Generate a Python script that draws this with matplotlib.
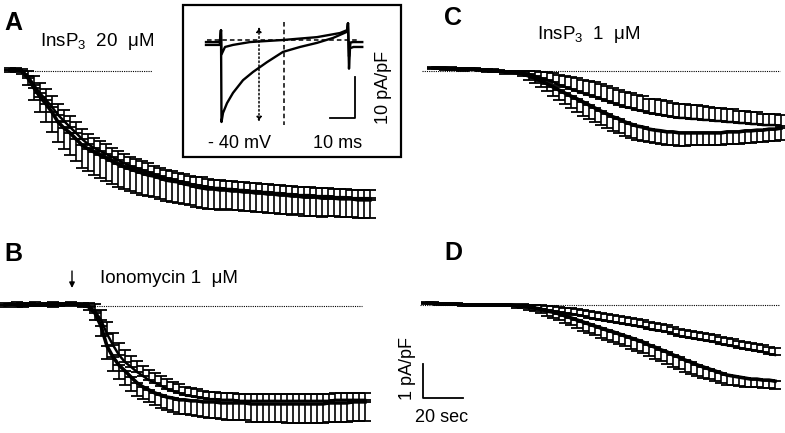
import matplotlib
matplotlib.use('Agg')
import matplotlib.pyplot as plt
from matplotlib.patches import Rectangle
import numpy as np

plt.rcParams['font.family'] = ['Liberation Sans', 'DejaVu Sans']
plt.rcParams['mathtext.fontset'] = 'custom'
plt.rcParams['mathtext.rm'] = 'Liberation Sans'

W, H = 785, 433
DT = 3.0  # s between samples

# === DATA (pA/pF), series 1 = filled (bars down), series 2 = open (bars up) ===
a_s1 = [0.03, 0.03, 0.00, -0.21, -0.50, -0.76, -0.97, -1.21, -1.50, -1.68,
        -1.82, -2.00, -2.18, -2.29, -2.38, -2.47, -2.56, -2.65, -2.74, -2.82,
        -2.88, -2.94, -3.00, -3.06, -3.09, -3.15, -3.21, -3.24, -3.26, -3.32,
        -3.35, -3.41, -3.44, -3.47, -3.47, -3.50, -3.50, -3.53, -3.53, -3.56,
        -3.56, -3.59, -3.59, -3.62, -3.62, -3.65, -3.65, -3.68, -3.68, -3.71,
        -3.71, -3.71, -3.74, -3.74, -3.74, -3.76, -3.76, -3.76, -3.79, -3.79,
        -3.79]
a_e1 = [0.06, 0.06, 0.08, 0.20, 0.35, 0.45, 0.52, 0.58, 0.60, 0.62,
        0.64, 0.65, 0.66, 0.66, 0.67, 0.67, 0.67, 0.66, 0.66, 0.65,
        0.65, 0.64, 0.64, 0.63, 0.63, 0.62, 0.62, 0.61, 0.61, 0.60,
        0.60, 0.59, 0.59, 0.58, 0.58, 0.58, 0.57, 0.57, 0.57, 0.56,
        0.56, 0.56, 0.56, 0.55, 0.55, 0.55, 0.55, 0.55, 0.54, 0.54,
        0.54, 0.54, 0.54, 0.53, 0.53, 0.53, 0.53, 0.53, 0.53, 0.53,
        0.53]
a_s2 = [0.03, 0.03, 0.00, -0.15, -0.41, -0.65, -0.85, -1.06, -1.29, -1.47,
        -1.65, -1.82, -2.00, -2.15, -2.26, -2.35, -2.44, -2.53, -2.62, -2.71,
        -2.79, -2.85, -2.91, -2.97, -3.03, -3.09, -3.15, -3.18, -3.24, -3.26,
        -3.32, -3.35, -3.38, -3.41, -3.44, -3.44, -3.47, -3.47, -3.50, -3.50,
        -3.53, -3.53, -3.56, -3.56, -3.59, -3.59, -3.62, -3.62, -3.65, -3.65,
        -3.65, -3.68, -3.68, -3.68, -3.71, -3.71, -3.71, -3.74, -3.74, -3.74,
        -3.74]
a_e2 = [0.05, 0.05, 0.06, 0.15, 0.25, 0.30, 0.33, 0.33, 0.33, 0.32,
        0.32, 0.31, 0.30, 0.30, 0.29, 0.28, 0.28, 0.27, 0.27, 0.26,
        0.26, 0.26, 0.25, 0.25, 0.25, 0.25, 0.25, 0.24, 0.24, 0.24,
        0.24, 0.24, 0.25, 0.24, 0.24, 0.23, 0.24, 0.24, 0.24, 0.25,
        0.24, 0.24, 0.23, 0.24, 0.24, 0.24, 0.24, 0.25, 0.24, 0.24,
        0.24, 0.23, 0.24, 0.24, 0.24, 0.24, 0.24, 0.25, 0.24, 0.24,
        0.24]

b_s1 = [0.03, 0.06, 0.03, 0.03, 0.06, 0.03, 0.06, 0.06, 0.03, 0.06,
        0.06, 0.06, 0.06, 0.03, -0.03, -0.21, -0.59, -1.18, -1.50, -1.74,
        -1.91, -2.09, -2.26, -2.38, -2.47, -2.56, -2.62, -2.68, -2.71, -2.76,
        -2.76, -2.79, -2.79, -2.82, -2.82, -2.82, -2.85, -2.85, -2.85, -2.85,
        -2.85, -2.88, -2.88, -2.88, -2.88, -2.88, -2.88, -2.88, -2.88, -2.88,
        -2.88, -2.88, -2.88, -2.88, -2.85, -2.85, -2.85, -2.85, -2.82, -2.82,
        -2.82]
b_e1 = [0.05, 0.04, 0.05, 0.06, 0.05, 0.04, 0.05, 0.05, 0.06, 0.05,
        0.05, 0.04, 0.05, 0.05, 0.10, 0.20, 0.30, 0.38, 0.40, 0.41,
        0.41, 0.40, 0.38, 0.36, 0.36, 0.36, 0.37, 0.38, 0.40, 0.41,
        0.42, 0.43, 0.44, 0.45, 0.46, 0.47, 0.48, 0.49, 0.50, 0.50,
        0.51, 0.52, 0.52, 0.53, 0.53, 0.54, 0.54, 0.55, 0.55, 0.55,
        0.56, 0.56, 0.56, 0.56, 0.56, 0.57, 0.57, 0.56, 0.57, 0.56,
        0.56]
b_s2 = [0.03, 0.03, 0.06, 0.03, 0.03, 0.06, 0.03, 0.03, 0.06, 0.03,
        0.03, 0.06, 0.03, 0.03, 0.00, -0.15, -0.41, -0.82, -1.15, -1.44,
        -1.65, -1.79, -1.94, -2.06, -2.18, -2.26, -2.35, -2.44, -2.50, -2.56,
        -2.62, -2.65, -2.68, -2.71, -2.74, -2.74, -2.76, -2.76, -2.76, -2.79,
        -2.79, -2.79, -2.79, -2.79, -2.79, -2.79, -2.79, -2.79, -2.79, -2.79,
        -2.79, -2.79, -2.79, -2.79, -2.79, -2.76, -2.76, -2.76, -2.76, -2.76,
        -2.76]
b_e2 = [0.05, 0.04, 0.05, 0.05, 0.06, 0.05, 0.04, 0.05, 0.05, 0.05,
        0.06, 0.05, 0.04, 0.05, 0.10, 0.20, 0.30, 0.35, 0.35, 0.35,
        0.35, 0.33, 0.32, 0.31, 0.30, 0.30, 0.29, 0.28, 0.27, 0.26,
        0.25, 0.24, 0.23, 0.22, 0.22, 0.21, 0.21, 0.21, 0.20, 0.20,
        0.20, 0.20, 0.20, 0.21, 0.20, 0.20, 0.20, 0.21, 0.20, 0.20,
        0.20, 0.21, 0.20, 0.20, 0.20, 0.21, 0.20, 0.20, 0.21, 0.20,
        0.20]

c_s1 = [0.09, 0.09, 0.09, 0.06, 0.06, 0.06, 0.06, 0.06, 0.03, 0.03,
        0.00, 0.00, -0.03, -0.03, -0.06, -0.09, -0.15, -0.21, -0.29, -0.38,
        -0.47, -0.56, -0.65, -0.74, -0.82, -0.91, -1.00, -1.09, -1.18, -1.26,
        -1.35, -1.41, -1.50, -1.56, -1.62, -1.65, -1.71, -1.74, -1.76, -1.79,
        -1.79, -1.82, -1.82, -1.82, -1.82, -1.82, -1.82, -1.82, -1.82, -1.79,
        -1.79, -1.79, -1.76, -1.76, -1.74, -1.74, -1.71, -1.71, -1.68]
c_e1 = [0.04, 0.04, 0.05, 0.04, 0.04, 0.05, 0.04, 0.04, 0.04, 0.05,
        0.04, 0.04, 0.05, 0.04, 0.04, 0.06, 0.10, 0.14, 0.18, 0.22,
        0.26, 0.30, 0.33, 0.36, 0.38, 0.40, 0.41, 0.42, 0.42, 0.42,
        0.41, 0.41, 0.40, 0.40, 0.40, 0.40, 0.39, 0.39, 0.39, 0.38,
        0.38, 0.38, 0.38, 0.37, 0.37, 0.37, 0.37, 0.36, 0.36, 0.36,
        0.36, 0.36, 0.35, 0.35, 0.35, 0.35, 0.35, 0.35, 0.35]
c_s2 = [0.09, 0.09, 0.06, 0.06, 0.06, 0.06, 0.06, 0.03, 0.03, 0.03,
        0.00, 0.00, -0.03, -0.03, -0.03, -0.06, -0.09, -0.15, -0.21, -0.26,
        -0.32, -0.41, -0.47, -0.53, -0.59, -0.65, -0.71, -0.76, -0.82, -0.88,
        -0.94, -1.00, -1.06, -1.09, -1.15, -1.18, -1.24, -1.26, -1.29, -1.32,
        -1.35, -1.38, -1.38, -1.41, -1.41, -1.44, -1.44, -1.47, -1.47, -1.50,
        -1.50, -1.53, -1.53, -1.56, -1.56, -1.59, -1.59, -1.59, -1.62]
c_e2 = [0.04, 0.04, 0.04, 0.05, 0.04, 0.04, 0.04, 0.05, 0.04, 0.04,
        0.05, 0.04, 0.04, 0.04, 0.04, 0.06, 0.10, 0.14, 0.18, 0.22,
        0.26, 0.30, 0.33, 0.36, 0.38, 0.40, 0.42, 0.43, 0.44, 0.44,
        0.44, 0.44, 0.44, 0.44, 0.44, 0.44, 0.43, 0.43, 0.43, 0.43,
        0.42, 0.42, 0.41, 0.41, 0.40, 0.40, 0.39, 0.39, 0.38, 0.38,
        0.37, 0.36, 0.36, 0.35, 0.35, 0.34, 0.34, 0.33, 0.32]

d_s1 = [0.06, 0.06, 0.03, 0.03, 0.03, 0.03, 0.00, 0.00, 0.00, 0.00,
        0.00, 0.00, 0.00, 0.00, 0.00, -0.03, -0.03, -0.06, -0.09, -0.12,
        -0.18, -0.21, -0.26, -0.32, -0.38, -0.44, -0.50, -0.56, -0.62, -0.68,
        -0.74, -0.79, -0.85, -0.91, -0.97, -1.03, -1.09, -1.18, -1.24, -1.32,
        -1.38, -1.47, -1.53, -1.62, -1.68, -1.76, -1.82, -1.88, -1.94, -2.00,
        -2.06, -2.09, -2.12, -2.15, -2.18, -2.18, -2.21, -2.21, -2.24]
d_e1 = [0.03, 0.03, 0.04, 0.03, 0.03, 0.03, 0.04, 0.03, 0.03, 0.03,
        0.04, 0.03, 0.03, 0.03, 0.04, 0.05, 0.06, 0.08, 0.10, 0.12,
        0.14, 0.16, 0.18, 0.20, 0.22, 0.24, 0.25, 0.26, 0.27, 0.28,
        0.29, 0.30, 0.31, 0.31, 0.32, 0.32, 0.33, 0.33, 0.34, 0.34,
        0.35, 0.35, 0.35, 0.34, 0.34, 0.33, 0.32, 0.31, 0.30, 0.29,
        0.28, 0.27, 0.26, 0.25, 0.24, 0.23, 0.23, 0.22, 0.22]
d_s2 = [0.06, 0.06, 0.03, 0.03, 0.03, 0.03, 0.00, 0.00, 0.00, 0.00,
        0.00, 0.00, 0.00, 0.00, 0.00, -0.03, -0.03, -0.06, -0.09, -0.12,
        -0.15, -0.18, -0.21, -0.24, -0.26, -0.29, -0.32, -0.38, -0.41, -0.44,
        -0.47, -0.50, -0.53, -0.56, -0.59, -0.62, -0.65, -0.71, -0.74, -0.76,
        -0.79, -0.85, -0.91, -0.94, -0.97, -1.00, -1.03, -1.06, -1.09, -1.15,
        -1.18, -1.21, -1.26, -1.29, -1.32, -1.35, -1.38, -1.44, -1.47]
d_e2 = [0.03, 0.03, 0.03, 0.04, 0.03, 0.03, 0.03, 0.04, 0.03, 0.03,
        0.03, 0.04, 0.03, 0.03, 0.03, 0.04, 0.05, 0.07, 0.09, 0.11,
        0.13, 0.14, 0.15, 0.16, 0.17, 0.18, 0.18, 0.19, 0.19, 0.20,
        0.20, 0.20, 0.20, 0.21, 0.20, 0.20, 0.21, 0.20, 0.20, 0.21,
        0.20, 0.20, 0.21, 0.20, 0.20, 0.21, 0.20, 0.20, 0.21, 0.20,
        0.20, 0.21, 0.20, 0.20, 0.21, 0.20, 0.20, 0.21, 0.20]

# inset: current traces during a -40 mV step (ms, pA/pF)
slow_t = [-6, -0.5, 0, 0.2, 0.8, 2.4, 4.8, 8.8, 12.8, 18.4, 24.8, 31.6,
          38.4, 44.8, 50.4, 50.8, 51.2, 51.6, 53, 56.5]
slow_i = [-1.2, -1.2, 2.4, -20.0, -17.8, -15.4, -12.9, -9.8, -7.8, -5.4,
          -2.9, -1.7, -0.7, 0.5, 2.0, 4.1, -7.0, -2.0, -1.7, -1.7]
fast_t = [-6, -0.5, 0, 0.2, 1.6, 4.8, 11.6, 24.8, 38.4, 47.6, 50.4, 50.8,
          51.2, 51.8, 53, 56.5]
fast_i = [-0.5, -0.5, 2.4, -3.5, -1.7, -1.2, -0.5, 0.0, 0.7, 1.7, 2.4, 4.1,
          -4.0, -0.6, -0.5, -0.5]

fig = plt.figure(figsize=(7.85, 4.33), dpi=100, facecolor='white')


def px(x, y):
    return x / W, 1 - y / H


def panel_axes(x0, y0, sx, sy):
    # axes over whole figure, origin (t=0, I=0) at pixel (x0, y0)
    ax = fig.add_axes([0, 0, 1, 1])
    ax.set_xlim(-x0 / sx, (W - x0) / sx)
    ax.set_ylim((y0 - H) / sy, y0 / sy)
    ax.axis('off')
    ax.patch.set_alpha(0)
    return ax


def draw_panel(ax, s1, e1, s2, e2, base):
    ax.plot(base, [0, 0], color='k', lw=0.8, ls=(0, (1, 1)))
    t2 = np.arange(len(s2)) * DT
    ax.errorbar(t2, s2, yerr=[np.zeros(len(e2)), e2], color='k', lw=1.8,
                elinewidth=1.2, capsize=4.2, capthick=1.3)
    t1 = np.arange(len(s1)) * DT
    ax.errorbar(t1, s1, yerr=[e1, np.zeros(len(e1))], color='k', lw=2.6,
                elinewidth=1.2, capsize=4.2, capthick=1.3)


axA = panel_axes(10, 71, 2.0, 34.0)
draw_panel(axA, a_s1, a_e1, a_s2, a_e2, [-1, 71])
axB = panel_axes(5, 306, 2.0, 34.0)
draw_panel(axB, b_s1, b_e1, b_s2, b_e2, [42.5, 178.5])
axC = panel_axes(433, 71, 2.0, 34.0)
draw_panel(axC, c_s1, c_e1, c_s2, c_e2, [-5.5, 173.5])
axD = panel_axes(427, 305, 2.0, 34.0)
draw_panel(axD, d_s1, d_e1, d_s2, d_e2, [-3.5, 176.5])

# scale bar 20 sec / 1 pA/pF
axD.plot([-2, -2, 18], [-1.74, -2.74, -2.74], color='k', lw=1.3)
fig.text(*px(408, 368), '1 pA/pF', rotation=90, ha='center', va='center', fontsize=13)
fig.text(*px(442, 418), '20 sec', ha='center', va='center', fontsize=13)

# === INSET ===
fig.add_artist(Rectangle(px(183, 157), (401 - 183) / W, (157 - 5) / H,
                         transform=fig.transFigure, fill=False, lw=1.6, color='k'))
ins = panel_axes(221, 40, 2.5, 4.1)
ins.plot([-5.6, 55], [0, 0], color='k', lw=1.1, ls=(0, (3, 2)))
ins.plot(slow_t, slow_i, color='k', lw=1.7)
ins.plot(fast_t, fast_i, color='k', lw=1.7)
ins.plot([25.2, 25.2], [4.4, -20.7], color='k', lw=1.1, ls=(0, (3, 2)))
ins.annotate('', xy=(15.2, -20.0), xytext=(15.2, 3.2),
             arrowprops=dict(arrowstyle='<|-|>', ls=':', lw=1.1, color='k',
                             mutation_scale=7, shrinkA=0, shrinkB=0))
ins.plot([43.6, 53.6, 53.6], [-19, -19, -9], color='k', lw=1.3)
fig.text(*px(240, 143), '- 40 mV', ha='center', va='center', fontsize=13)
fig.text(*px(338, 143), '10 ms', ha='center', va='center', fontsize=13)
fig.text(*px(384, 87), '10 pA/pF', rotation=90, ha='center', va='center', fontsize=13)

# === LABELS ===
for lab, (x, y) in zip('ABCD', [(13, 23), (13, 254), (453, 18), (453, 253)]):
    fig.text(*px(x, y), lab, ha='center', va='center', fontsize=18, fontweight='bold')

fig.text(*px(40, 46), r'InsP$_\mathrm{3}$  20  μM', ha='left', va='baseline', fontsize=13.5)
fig.text(*px(537, 39), r'InsP$_\mathrm{3}$  1  μM', ha='left', va='baseline', fontsize=13.5)
fig.text(*px(100, 283), 'Ionomycin 1  μM', ha='left', va='baseline', fontsize=13.5)
fig.add_artist(plt.Annotation('', xy=px(72, 288), xytext=px(72, 271),
                              xycoords='figure fraction', textcoords='figure fraction',
                              arrowprops=dict(arrowstyle='-|>', lw=1.0, color='k',
                                              mutation_scale=8, shrinkA=0, shrinkB=0)))

fig.savefig('out.png', dpi=100, facecolor='white')
